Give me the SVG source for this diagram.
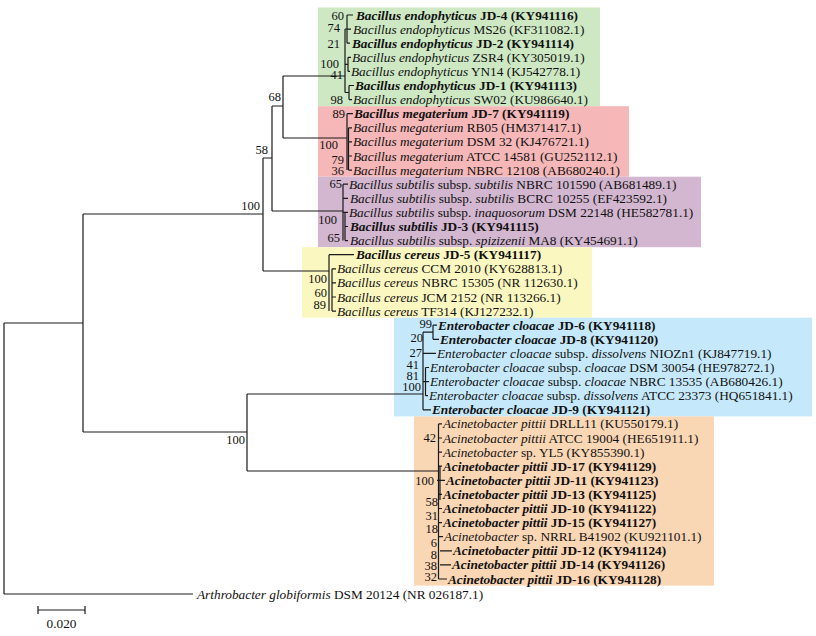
<svg xmlns="http://www.w3.org/2000/svg" width="816" height="636" viewBox="0 0 816 636">
<style>
.t{font-family:"Liberation Serif","Times New Roman",serif;font-size:13.3px;fill:#111}
.i{font-style:italic}
.b{font-weight:bold}
.n{font-family:"Liberation Serif","Times New Roman",serif;font-size:12.5px;fill:#111;text-anchor:end}
.ln{stroke:#1a1a1a;stroke-width:1.2;fill:none}
</style>
<rect width="816" height="636" fill="#fff"/>
<g id="boxes">
<rect id="box-endophyticus" x="318" y="7.5" width="282" height="98.7" fill="#cde8c3"/>
<rect id="box-megaterium" x="318" y="106.2" width="311" height="70.5" fill="#f5b7b7"/>
<rect id="box-subtilis" x="318" y="176.7" width="383" height="70.5" fill="#d3b6cf"/>
<rect id="box-cereus" x="302" y="247.2" width="290" height="70.5" fill="#fbf7c0"/>
<rect id="box-cloacae" x="394" y="317.7" width="418" height="98.7" fill="#c5e9fa"/>
<rect id="box-pittii" x="414" y="416.4" width="300" height="169.2" fill="#f9d6b4"/>
</g>
<g id="connectors" class="ln">
<path d="M4,323V594M4,323H83M83,214V432M83,214H263M83,432H247M263,158V271M263,158H272M263,271H329M272,106V211M272,106H283M272,211H343M283,76V138M283,76H345M283,138H347M247,394V471M247,394H423M247,471H438.5M4,594H193"/>
<path d="M345,29V92.5M345,29H347M347,15V43.2M347,15H353M347,29.1H351M347,43.2H350M345,64.3H348M348,57.3V71.4M348,57.3H351M348,71.4H350M345,92.5H349M349,85.5V99.6M349,85.5H354M349,99.6H352"/>
<path d="M347,113.7V170.1M348.5,127.8V170.1M347,113.7H353M348.5,127.8H352M348.5,141.9H352M348.5,156H352M348.5,170.1H352"/>
<path d="M343,184.2V240.6M343,184.2H348M343,198.3H348M343,212.4H348M345,212.4V240.6M345,226.5H348M345,240.6H348"/>
<path d="M329,254.7V311.1M329,254.7H354M332,268.8V311.1M332,268.8H336M332,282.9H336M332,297H336M332,311.1H336"/>
<path d="M423,332.2V409.8M423,332.2H433M433,325.2V339.3M433,325.2H437M433,339.3H439M423,353.4H436M425.5,367.5V395.7M423,381.6H425.5M425.5,367.5H429M425.5,381.6H429M425.5,395.7H428M423,409.8H431"/>
<path d="M438.5,423.9V579M440,466V500M438.5,423.9H442M438.5,438H442M438.5,452.1H442M438.5,466.2H442M437,480.3H445M438.5,494.4H442M438.5,508.5H442M438.5,522.6H442M438.5,536.7H443M440,550.8H452M440,564.9H451M438.5,579H447"/>
<path d="M38,610H85M38,606V614M85,606V614"/>
</g>
<g id="support">
<text class="n" x="281" y="101">68</text>
<text class="n" x="268" y="154">58</text>
<text class="n" x="260" y="210">100</text>
<text class="n" x="245" y="444">100</text>
<text class="n" x="344" y="19.5">60</text>
<text class="n" x="340" y="32.3">74</text>
<text class="n" x="340" y="47.8">21</text>
<text class="n" x="339" y="67.7">100</text>
<text class="n" x="343" y="78.5">41</text>
<text class="n" x="343" y="104">98</text>
<text class="n" x="345" y="118">89</text>
<text class="n" x="338" y="149">100</text>
<text class="n" x="344" y="163.7">79</text>
<text class="n" x="344" y="175.3">36</text>
<text class="n" x="342" y="187.5">65</text>
<text class="n" x="337" y="223.5">100</text>
<text class="n" x="340" y="242">65</text>
<text class="n" x="327" y="283">100</text>
<text class="n" x="327" y="296.8">60</text>
<text class="n" x="326" y="308.8">89</text>
<text class="n" x="432" y="328">99</text>
<text class="n" x="423" y="342">20</text>
<text class="n" x="422" y="357">27</text>
<text class="n" x="419" y="369">41</text>
<text class="n" x="419" y="380">81</text>
<text class="n" x="421" y="391">100</text>
<text class="n" x="436" y="441.6">42</text>
<text class="n" x="434" y="484.8">100</text>
<text class="n" x="438" y="506">58</text>
<text class="n" x="438" y="519.5">31</text>
<text class="n" x="438" y="533">18</text>
<text class="n" x="437" y="547">6</text>
<text class="n" x="437" y="559">8</text>
<text class="n" x="437" y="570">38</text>
<text class="n" x="437" y="581">32</text>
</g>
<g id="taxa">
<text id="jd4" class="t b" x="356" y="19.5"><tspan class="i">Bacillus endophyticus</tspan> JD-4 (KY941116)</text>
<text id="ms26" class="t" x="353" y="33.6"><tspan class="i">Bacillus endophyticus</tspan> MS26 (KF311082.1)</text>
<text id="jd2" class="t b" x="352" y="47.7"><tspan class="i">Bacillus endophyticus</tspan> JD-2 (KY941114)</text>
<text id="zsr4" class="t" x="352" y="61.8"><tspan class="i">Bacillus endophyticus</tspan> ZSR4 (KY305019.1)</text>
<text id="yn14" class="t" x="351" y="75.9"><tspan class="i">Bacillus endophyticus</tspan> YN14 (KJ542778.1)</text>
<text id="jd1" class="t b" x="355" y="90"><tspan class="i">Bacillus endophyticus</tspan> JD-1 (KY941113)</text>
<text id="sw02" class="t" x="353" y="104.1"><tspan class="i">Bacillus endophyticus</tspan> SW02 (KU986640.1)</text>
<text id="jd7" class="t b" x="354" y="118.2"><tspan class="i">Bacillus megaterium</tspan> JD-7 (KY941119)</text>
<text id="rb05" class="t" x="353" y="132.3"><tspan class="i">Bacillus megaterium</tspan> RB05 (HM371417.1)</text>
<text id="dsm32" class="t" x="353" y="146.4"><tspan class="i">Bacillus megaterium</tspan> DSM 32 (KJ476721.1)</text>
<text id="atcc14581" class="t" x="353" y="160.5"><tspan class="i">Bacillus megaterium</tspan> ATCC 14581 (GU252112.1)</text>
<text id="nbrc12108" class="t" x="353" y="174.6"><tspan class="i">Bacillus megaterium</tspan> NBRC 12108 (AB680240.1)</text>
<text id="nbrc101590" class="t" x="349" y="188.7"><tspan class="i">Bacillus subtilis</tspan> subsp. <tspan class="i">subtilis</tspan> NBRC 101590 (AB681489.1)</text>
<text id="bcrc10255" class="t" x="350" y="202.8"><tspan class="i">Bacillus subtilis</tspan> subsp. <tspan class="i">subtilis</tspan> BCRC 10255 (EF423592.1)</text>
<text id="dsm22148" class="t" x="349" y="216.9"><tspan class="i">Bacillus subtilis</tspan> subsp. <tspan class="i">inaquosorum</tspan> DSM 22148 (HE582781.1)</text>
<text id="jd3" class="t b" x="350" y="231"><tspan class="i">Bacillus subtilis</tspan> JD-3 (KY941115)</text>
<text id="ma8" class="t" x="350" y="245.1"><tspan class="i">Bacillus subtilis</tspan> subsp. <tspan class="i">spizizenii</tspan> MA8 (KY454691.1)</text>
<text id="jd5" class="t b" x="356" y="259.2"><tspan class="i">Bacillus cereus</tspan> JD-5 (KY941117)</text>
<text id="ccm2010" class="t" x="337" y="273.3"><tspan class="i">Bacillus cereus</tspan> CCM 2010 (KY628813.1)</text>
<text id="nbrc15305" class="t" x="337" y="287.4"><tspan class="i">Bacillus cereus</tspan> NBRC 15305 (NR 112630.1)</text>
<text id="jcm2152" class="t" x="337" y="301.5"><tspan class="i">Bacillus cereus</tspan> JCM 2152 (NR 113266.1)</text>
<text id="tf314" class="t" x="337" y="315.6"><tspan class="i">Bacillus cereus</tspan> TF314 (KJ127232.1)</text>
<text id="jd6" class="t b" x="438" y="329.7"><tspan class="i">Enterobacter cloacae</tspan> JD-6 (KY941118)</text>
<text id="jd8" class="t b" x="440" y="343.8"><tspan class="i">Enterobacter cloacae</tspan> JD-8 (KY941120)</text>
<text id="niozn1" class="t" x="437" y="357.9"><tspan class="i">Enterobacter cloacae</tspan> subsp. <tspan class="i">dissolvens</tspan> NIOZn1 (KJ847719.1)</text>
<text id="dsm30054" class="t" x="430" y="372"><tspan class="i">Enterobacter cloacae</tspan> subsp. <tspan class="i">cloacae</tspan> DSM 30054 (HE978272.1)</text>
<text id="nbrc13535" class="t" x="430" y="386.1"><tspan class="i">Enterobacter cloacae</tspan> subsp. <tspan class="i">cloacae</tspan> NBRC 13535 (AB680426.1)</text>
<text id="atcc23373" class="t" x="429" y="400.2"><tspan class="i">Enterobacter cloacae</tspan> subsp. <tspan class="i">dissolvens</tspan> ATCC 23373 (HQ651841.1)</text>
<text id="jd9" class="t b" x="432" y="414.3"><tspan class="i">Enterobacter cloacae</tspan> JD-9 (KY941121)</text>
<text id="drll11" class="t" x="443" y="428.4"><tspan class="i">Acinetobacter pittii</tspan> DRLL11 (KU550179.1)</text>
<text id="atcc19004" class="t" x="443" y="442.5"><tspan class="i">Acinetobacter pittii</tspan> ATCC 19004 (HE651911.1)</text>
<text id="yl5" class="t" x="443" y="456.6"><tspan class="i">Acinetobacter</tspan> sp. YL5 (KY855390.1)</text>
<text id="jd17" class="t b" x="443" y="470.7"><tspan class="i">Acinetobacter pittii</tspan> JD-17 (KY941129)</text>
<text id="jd11" class="t b" x="446" y="484.8"><tspan class="i">Acinetobacter pittii</tspan> JD-11 (KY941123)</text>
<text id="jd13" class="t b" x="443" y="498.9"><tspan class="i">Acinetobacter pittii</tspan> JD-13 (KY941125)</text>
<text id="jd10" class="t b" x="443" y="513"><tspan class="i">Acinetobacter pittii</tspan> JD-10 (KY941122)</text>
<text id="jd15" class="t b" x="443" y="527.1"><tspan class="i">Acinetobacter pittii</tspan> JD-15 (KY941127)</text>
<text id="nrrl" class="t" x="444" y="541.2"><tspan class="i">Acinetobacter</tspan> sp. NRRL B41902 (KU921101.1)</text>
<text id="jd12" class="t b" x="453" y="555.3"><tspan class="i">Acinetobacter pittii</tspan> JD-12 (KY941124)</text>
<text id="jd14" class="t b" x="452" y="569.4"><tspan class="i">Acinetobacter pittii</tspan> JD-14 (KY941126)</text>
<text id="jd16" class="t b" x="448" y="583.5"><tspan class="i">Acinetobacter pittii</tspan> JD-16 (KY941128)</text>
<text id="arthrobacter" class="t" x="197" y="598.5"><tspan class="i">Arthrobacter globiformis</tspan> DSM 20124 (NR 026187.1)</text>
</g>
<g id="scale">
<text class="t" x="61.5" y="628" text-anchor="middle">0.020</text>
</g>
</svg>
